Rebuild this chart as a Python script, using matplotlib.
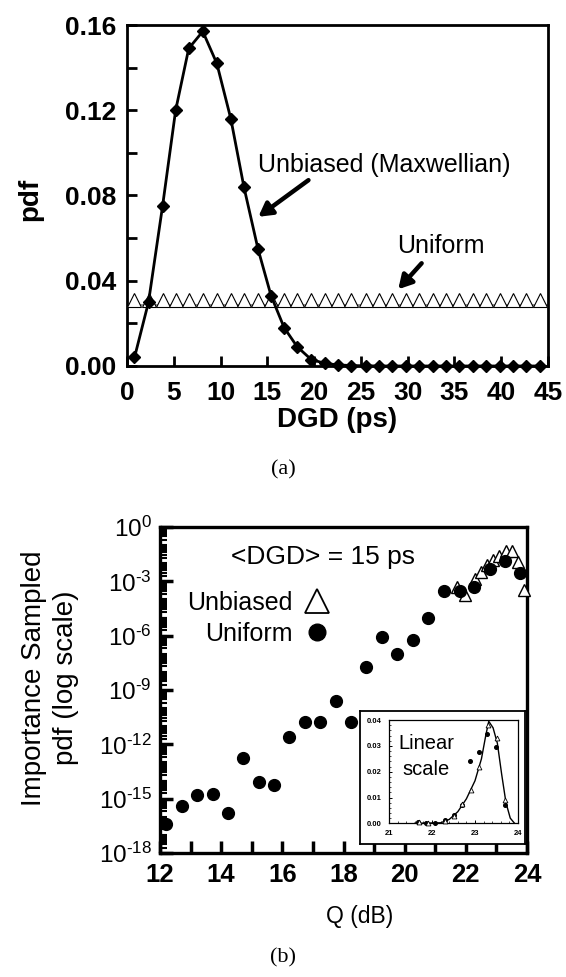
import matplotlib
matplotlib.use('Agg')
import matplotlib.pyplot as plt
from matplotlib.lines import Line2D
from matplotlib.ticker import FixedLocator, MultipleLocator, NullFormatter

plt.rcParams['font.family'] = ['Liberation Sans', 'DejaVu Sans']
plt.rcParams['mathtext.fontset'] = 'custom'
plt.rcParams['mathtext.rm'] = 'Liberation Sans'
plt.rcParams['mathtext.it'] = 'Liberation Sans:italic'
plt.rcParams['mathtext.bf'] = 'Liberation Sans:bold'

# ---------------- data: panel (a) ----------------
dgd_ps = [0.8, 2.3, 3.8, 5.2, 6.6, 8.1, 9.6, 11.1, 12.5, 14.0, 15.4, 16.8, 18.2, 19.7,
          21.2, 22.6, 24.0, 25.5, 26.9, 28.3, 29.8, 31.2, 32.7, 34.1, 35.5, 37.0,
          38.4, 39.9, 41.3, 42.7, 44.2]
maxwell_pdf = [0.004, 0.030, 0.075, 0.120, 0.149, 0.157, 0.142, 0.116, 0.084, 0.055,
               0.033, 0.018, 0.009, 0.003, 0.0012, 0.0005, 0.0002, 0.0001, 0.0, 0.0,
               0.0, 0.0, 0.0, 0.0, 0.0, 0.0, 0.0, 0.0, 0.0, 0.0, 0.0]
uniform_pdf = [0.031, 0.031, 0.031, 0.031, 0.031, 0.031, 0.031, 0.031, 0.031, 0.031,
               0.031, 0.031, 0.031, 0.031, 0.031, 0.031, 0.031, 0.031, 0.031, 0.031,
               0.031, 0.031, 0.031, 0.031, 0.031, 0.031, 0.031, 0.031, 0.031, 0.031,
               0.031]
uniform_level = 0.0285
a_xticks = [0, 5, 10, 15, 20, 25, 30, 35, 40, 45]
a_yticks = [0.00, 0.04, 0.08, 0.12, 0.16]
a_yticklabels = ['0.00', '0.04', '0.08', '0.12', '0.16']

# ---------------- data: panel (b) ----------------
q_uniform = [12.2, 12.73, 13.22, 13.72, 14.23, 14.73, 15.23, 15.73, 16.23, 16.75,
             17.24, 17.75, 18.24, 18.74, 19.26, 19.75, 20.26, 20.76, 21.27, 21.8,
             22.28, 22.78, 23.28, 23.78]
pdf_uniform = [4.2e-17, 4.1e-16, 1.5e-15, 1.9e-15, 1.6e-16, 1.8e-13, 8.3e-15, 5.4e-15,
               2.5e-12, 1.8e-11, 1.8e-11, 2.5e-10, 1.8e-11, 1.9e-8, 8.7e-7, 9.3e-8,
               5.8e-7, 1.0e-5, 2.9e-4, 2.9e-4, 5.0e-4, 5.1e-3, 1.35e-2, 3.0e-3]
q_unbiased = [21.7, 21.98, 22.3, 22.5, 22.7, 22.9, 23.1, 23.3, 23.5, 23.7, 23.9]
pdf_unbiased = [5.0e-4, 1.8e-4, 1.3e-3, 3.2e-3, 7.9e-3, 1.6e-2, 2.5e-2, 4.5e-2, 4.5e-2,
                1.1e-2, 3.2e-4]
b_xticks = [12, 14, 16, 18, 20, 22, 24]
b_xminor = [13, 15, 17, 19, 21, 23]
b_yexp = [-18, -15, -12, -9, -6, -3, 0]

# ---------------- data: inset ----------------
in_q_dots = [21.68, 21.87, 22.07, 22.3, 22.5, 22.69, 22.89, 23.1, 23.29, 23.49, 23.69]
in_pdf_dots = [0.0006, 0.0002, 0.0002, 0.0013, 0.0033, 0.0072, 0.024, 0.0276, 0.0345,
               0.0295, 0.0072]
in_q_tri = [21.7, 21.9, 22.3, 22.5, 22.7, 22.9, 23.1, 23.3, 23.5, 23.7]
in_pdf_tri = [0.0005, 0.0002, 0.001, 0.003, 0.0075, 0.013, 0.022, 0.038, 0.033, 0.009]
in_q_curve = [21.6, 22.2, 22.4, 22.6, 22.8, 23.0, 23.15, 23.25, 23.32, 23.42, 23.52,
              23.62, 23.72, 23.82, 23.92]
in_pdf_curve = [0.0, 0.0002, 0.0015, 0.0045, 0.0095, 0.0165, 0.025, 0.034, 0.0395,
                0.037, 0.031, 0.019, 0.008, 0.002, 0.0]
in_xticks = [21, 22, 23, 24]
in_yticks = [0.00, 0.01, 0.02, 0.03, 0.04]

fig = plt.figure(figsize=(5.66, 9.77), dpi=100)

# ================= panel (a) =================
ax1 = fig.add_axes([0.2244, 0.6254, 0.7436, 0.349])
ax1.axhline(uniform_level, color='#808080', lw=1.2, zorder=2)
ax1.plot(dgd_ps, uniform_pdf, ls='none', marker='^', ms=9.5, mfc='white', mec='black',
         mew=0.8, zorder=3, clip_on=False)
ax1.plot(dgd_ps, maxwell_pdf, color='black', lw=2.0, marker='D', ms=6.3, zorder=5,
         clip_on=False)
ax1.set_xlim(0, 45)
ax1.set_ylim(0, 0.16)
ax1.set_xticks(a_xticks)
ax1.set_xticklabels([str(t) for t in a_xticks], fontweight='bold', fontsize=19)
ax1.set_yticks(a_yticks)
ax1.set_yticklabels(a_yticklabels, fontweight='bold', fontsize=19)
ax1.yaxis.set_minor_locator(MultipleLocator(0.02))
ax1.tick_params(which='both', direction='in', length=7, width=2)
ax1.tick_params(axis='x', pad=11)
ax1.tick_params(axis='y', pad=8)
for s in ax1.spines.values():
    s.set_linewidth(2.0)
ax1.set_xlabel('DGD (ps)', fontweight='bold', fontsize=20)
ax1.xaxis.set_label_coords(0.5, -0.12)
ax1.set_ylabel('pdf', fontweight='bold', fontsize=20)
ax1.yaxis.set_label_coords(-0.2, 0.49)

arrow_kw = dict(arrowstyle='-|>,head_length=0.8,head_width=0.45', lw=3.2, color='black',
                shrinkA=0, shrinkB=0)
ax1.annotate('', xy=(14.04, 0.070), xytext=(19.4, 0.0872), arrowprops=arrow_kw)
ax1.text(14.0, 0.091, 'Unbiased (Maxwellian)', fontsize=18, ha='left', va='baseline')
ax1.annotate('', xy=(29.0, 0.036), xytext=(31.5, 0.0482), arrowprops=arrow_kw)
ax1.text(28.85, 0.053, 'Uniform', fontsize=18, ha='left', va='baseline')

fig.text(0.5, 1 - 470 / 977, '(a)', ha='center', va='center',
         family='Liberation Serif', fontsize=16)

# ================= panel (b) =================
ax2 = fig.add_axes([0.2827, 0.1269, 0.6484, 0.3337])
ax2.set_yscale('log')
ax2.plot(q_uniform, pdf_uniform, ls='none', marker='o', ms=8.5, color='black', zorder=4,
         clip_on=False)
ax2.plot(q_unbiased, pdf_unbiased, ls='none', marker='^', ms=9, mfc='white', mec='black',
         mew=1.0, zorder=3, clip_on=False)
ax2.set_xlim(12, 24)
ax2.set_ylim(1e-18, 1)
ax2.set_xticks(b_xticks)
ax2.set_xticklabels([str(t) for t in b_xticks], fontweight='bold', fontsize=18.5)
ax2.xaxis.set_minor_locator(FixedLocator(b_xminor))
ax2.xaxis.set_minor_formatter(NullFormatter())
major_y = [10.0 ** e for e in b_yexp]
ax2.yaxis.set_major_locator(FixedLocator(major_y))
ax2.set_yticklabels(['10$^{\\text{%d}}$' % e for e in b_yexp], fontsize=17.5)
minor_y = []
for e in range(-18, 0):
    for k in range(1, 10):
        v = k * 10.0 ** e
        if not (k == 1 and e in b_yexp):
            minor_y.append(v)
ax2.yaxis.set_minor_locator(FixedLocator(minor_y))
ax2.yaxis.set_minor_formatter(NullFormatter())
ax2.tick_params(which='major', direction='in', length=9, width=2.5)
ax2.tick_params(axis='x', which='minor', direction='in', length=9, width=2.5)
ax2.tick_params(axis='y', which='minor', direction='in', length=5, width=1.5)
ax2.tick_params(axis='x', pad=7)
ax2.tick_params(axis='y', pad=6)
for s in ax2.spines.values():
    s.set_linewidth(2.4)
ax2.set_xlabel('Q (dB)', fontsize=16.5)
ax2.xaxis.set_label_coords(0.545, -0.16)
ax2.set_ylabel('Importance Sampled\npdf (log scale)', fontsize=20, linespacing=1.3)
ax2.yaxis.set_label_coords(-0.221, 0.537)

ax2.text(0.443, 0.888, '<DGD> = 15 ps', transform=ax2.transAxes, ha='center',
         va='baseline', fontsize=19)
handles = [Line2D([], [], ls='none', marker='^', ms=17, mfc='white', mec='black', mew=1.3),
           Line2D([], [], ls='none', marker='o', ms=12, color='black')]
ax2.legend(handles, ['Unbiased', 'Uniform'], markerfirst=False, frameon=False,
           fontsize=18, loc='upper right', bbox_to_anchor=(0.463, 0.805),
           handlelength=1.0, handletextpad=0.5, labelspacing=0.3, borderaxespad=0,
           borderpad=0)

fig.text(0.5, 1 - 958 / 977, '(b)', ha='center', va='center',
         family='Liberation Serif', fontsize=16)

# ================= inset =================
axb = fig.add_axes([0.636, 0.1361, 0.2916, 0.1362])
axb.set_xticks([])
axb.set_yticks([])
axb.set_facecolor('white')
for s in axb.spines.values():
    s.set_linewidth(1.3)

axi = fig.add_axes([0.6873, 0.1573, 0.2279, 0.1057])
axi.plot(in_q_curve, in_pdf_curve, color='black', lw=1.0, zorder=3)
axi.plot(in_q_dots, in_pdf_dots, ls='none', marker='o', ms=2.6, color='black', zorder=4,
         clip_on=False)
axi.plot(in_q_tri, in_pdf_tri, ls='none', marker='^', ms=3.5, mfc='white', mec='black',
         mew=0.6, zorder=4, clip_on=False)
axi.set_xlim(21, 24)
axi.set_ylim(0, 0.04)
axi.set_xticks(in_xticks)
axi.set_xticklabels([str(t) for t in in_xticks], fontsize=5.5, fontweight='bold')
axi.set_yticks(in_yticks)
axi.set_yticklabels(['%.2f' % t for t in in_yticks], fontsize=5.5, fontweight='bold')
axi.yaxis.set_minor_locator(MultipleLocator(0.002))
axi.xaxis.set_minor_locator(MultipleLocator(0.2))
axi.tick_params(which='major', direction='in', length=2.5, width=0.7, pad=5)
axi.tick_params(which='minor', direction='in', length=1.5, width=0.5)
for s in axi.spines.values():
    s.set_linewidth(0.9)
axi.text(0.29, 0.777, 'Linear', transform=axi.transAxes, ha='center', va='center',
         fontsize=14.5)
axi.text(0.29, 0.517, 'scale', transform=axi.transAxes, ha='center', va='center',
         fontsize=14.5)

fig.savefig('out.png', dpi=100)
